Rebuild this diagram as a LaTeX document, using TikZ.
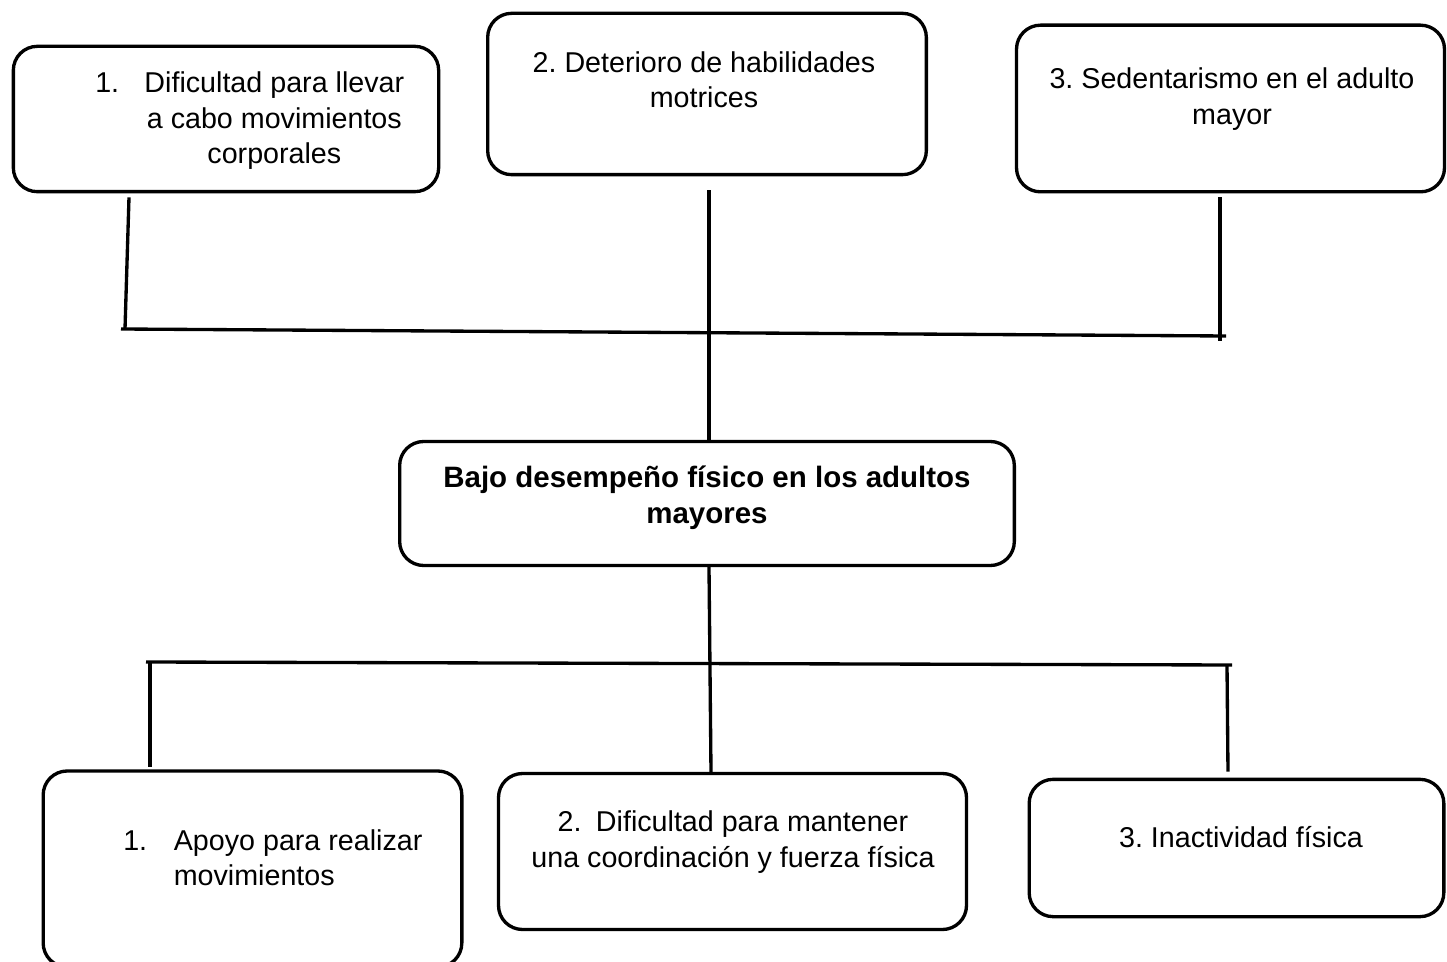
\documentclass[tikz,border=0pt]{standalone}
\usepackage{fontspec}
\setmainfont{Liberation Sans}
\usepackage{tikz}
\usetikzlibrary{calc,positioning}
\frenchspacing

\begin{document}
\begin{tikzpicture}[x=0.75pt, y=-0.75pt,
        caja/.style={draw, rounded corners=18pt, line width=2.5pt},
        enlace/.style={line width=2.5pt},
        texto/.style={font=\fontsize{21.5}{26.5}\selectfont, align=center, inner sep=0pt}]
    \useasboundingbox (0,0) rectangle (1447,962);

    % causas
    \node [caja, minimum width=319pt, minimum height=109pt] (dificultad) at (226,119) {};
    \node [caja, minimum width=329pt, minimum height=121pt] (deterioro) at (707,94) {};
    \node [caja, minimum width=321pt, minimum height=125pt] (sedentarismo) at (1230.5,108.5) {};
    \node [texto, anchor=west] (dificultad-txt) at (95,121) {\begin{tabular}{@{}r@{\hspace{19pt}}c@{}}
        1. & Dificultad para llevar \\ & a cabo movimientos \\ & corporales \end{tabular}};
    \node [texto] (deterioro-txt) at (704,80) {2. Deterioro de habilidades\\motrices};
    \node [texto] (sedentarismo-txt) at (1232,99) {3. Sedentarismo en el adulto\\mayor};

    % problema
    \node [caja, minimum width=461pt, minimum height=93pt] (problema) at (707,503.5) {};
    \node [texto, font=\fontsize{22.1}{27}\selectfont\bfseries] (problema-txt) at (707,498)
        {Bajo desempeño físico en los adultos\\mayores};

    % efectos
    \node [caja, minimum width=314pt, minimum height=147pt] (apoyo) at (252.5,869) {};
    \node [caja, minimum width=351pt, minimum height=117pt] (coordinacion) at (732.5,851.5) {};
    \node [caja, minimum width=311pt, minimum height=103pt] (inactividad) at (1236.5,848) {};
    \node [texto, anchor=west] (apoyo-txt) at (123,861) {\begin{tabular}{@{}r@{\hspace{20pt}}l@{}}
        1. & Apoyo para realizar \\ & movimientos \end{tabular}};
    \node [texto] (coordinacion-txt) at (733,842) {2.\hspace{0.5em}Dificultad para mantener\\una coordinación y fuerza física};
    \node [texto] (inactividad-txt) at (1241,837) {3. Inactividad física};

    \coordinate (barra-izq) at (125,329);
    \coordinate (barra-der) at (1220,336);
    \draw [enlace] ($(dificultad.south)+(-97,4)$) -- (barra-izq);
    \draw [enlace] ($(barra-izq)+(-4,0)$) -- ($(barra-der)+(6,0)$);
    \draw [enlace] ($(sedentarismo.south)+(-10.5,4)$) -- ($(barra-der)+(0,5)$);
    \draw [enlace] ($(deterioro.south)+(2,14)$) -- ($(problema.north)+(2,0)$);

    \coordinate (rama-izq) at (146,662);
    \coordinate (rama-der) at (1232,665);
    \draw [enlace] ($(problema.south)+(2,0)$) -- ($(coordinacion.north)+(-21.5,0)$);
    \draw [enlace] (rama-izq) -- (rama-der);
    \draw [enlace] ($(rama-izq)+(4,0)$) -- ($(apoyo.north)+(-102.5,-2)$);
    \draw [enlace] ($(rama-der)+(-5,0)$) -- ($(inactividad.north)+(-8.5,-6)$);
\end{tikzpicture}
\end{document}
